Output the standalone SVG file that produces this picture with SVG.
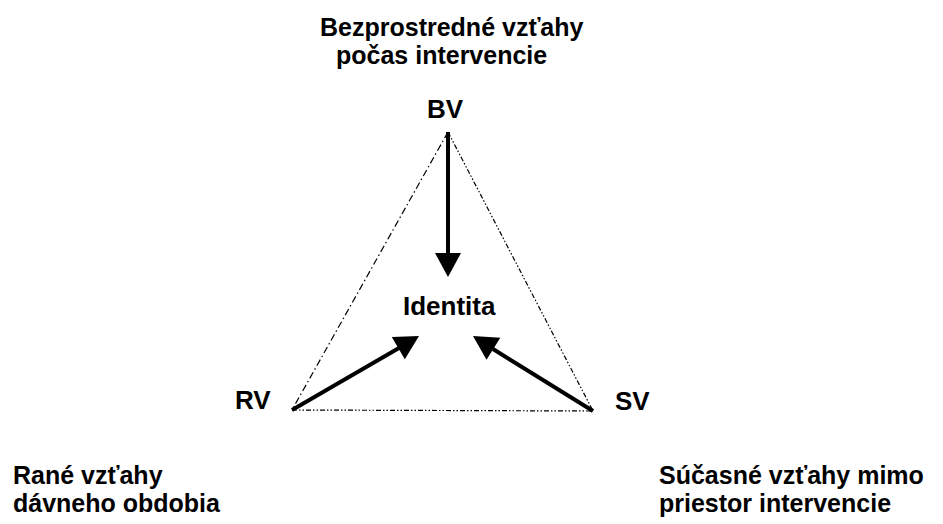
<svg xmlns="http://www.w3.org/2000/svg" width="943" height="524" viewBox="0 0 943 524">
<style>
text{font-family:"Liberation Sans",Arial,sans-serif;font-weight:bold;font-size:26px;fill:#000}
.lbl{font-size:25px}
.edge{fill:none;stroke:#000;stroke-width:1.2}
.e1{stroke-dasharray:7 3 1.5 3}
.e2{stroke-dasharray:5 2 1.5 2 1.5 2}
.shaft{stroke:#000;stroke-width:4;fill:none}
.head{fill:#000;stroke:none}
</style>
<rect width="943" height="524" fill="#fff"/>
<g id="connectors">
<line class="edge e1" x1="448" y1="132" x2="292" y2="410"/>
<line class="edge e2" x1="448" y1="132" x2="593" y2="411"/>
<line class="edge e2" x1="292" y1="410" x2="593" y2="411"/>
<line class="shaft" x1="448" y1="132" x2="448" y2="254"/>
<polygon class="head" points="435,253 461,253 448,277"/>
<line class="shaft" x1="292" y1="410" x2="399" y2="348"/>
<polygon class="head" points="419,336 391.8,336.9 404.8,359.3"/>
<line class="shaft" x1="593" y1="411" x2="493" y2="349"/>
<polygon class="head" points="473,336 500.3,337.7 486.5,359.7"/>
</g>
<g id="node-bv">
<text class="lbl" x="320" y="36">Bezprostredné vzťahy</text>
<text class="lbl" x="336" y="64">počas intervencie</text>
<text x="427" y="118">BV</text>
</g>
<g id="node-identita">
<text x="403" y="315">Identita</text>
</g>
<g id="node-rv">
<text x="235" y="409">RV</text>
<text class="lbl" x="13" y="484">Rané vzťahy</text>
<text class="lbl" x="13" y="512">dávneho obdobia</text>
</g>
<g id="node-sv">
<text x="615" y="410">SV</text>
<text class="lbl" x="659" y="484">Súčasné vzťahy mimo</text>
<text class="lbl" x="659" y="512">priestor intervencie</text>
</g>
</svg>
